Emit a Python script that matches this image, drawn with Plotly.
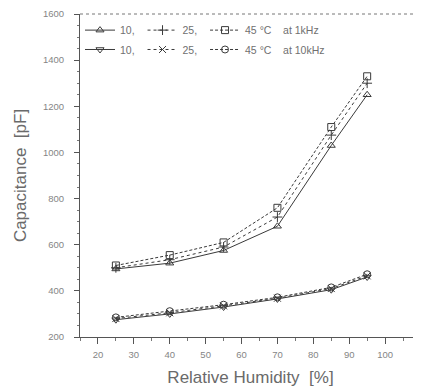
import plotly.graph_objects as go

humidity = [25, 40, 55, 70, 85, 95]

c_10C_1k = [495, 520, 575, 680, 1030, 1250]
c_25C_1k = [500, 535, 590, 720, 1075, 1300]
c_45C_1k = [510, 555, 610, 760, 1110, 1330]

c_10C_10k = [275, 300, 330, 365, 405, 460]
c_25C_10k = [280, 305, 335, 368, 410, 465]
c_45C_10k = [285, 312, 340, 372, 415, 472]

x_ticks = [20, 30, 40, 50, 60, 70, 80, 90, 100]
y_ticks = [200, 400, 600, 800, 1000, 1200, 1400, 1600]

names_1k = ["10, ", "25, ", "45 °C    at 1kHz"]
names_10k = ["10, ", "25, ", "45 °C    at 10kHz"]

LINE = "#3a3a3a"
TXT = "#858585"
FONT = "Liberation Sans, Arial, sans-serif"

fig = go.Figure()

specs_1k = [
    (c_10C_1k, "solid", "triangle-up-open"),
    (c_25C_1k, "dot", "cross-thin-open"),
    (c_45C_1k, "3px,2px", "square-open"),
]
specs_10k = [
    (c_10C_10k, "solid", "triangle-down-open"),
    (c_25C_10k, "dot", "x-thin-open"),
    (c_45C_10k, "3px,2px", "circle-open"),
]

for (vals, dash, sym), nm in zip(specs_1k, names_1k):
    fig.add_trace(go.Scatter(
        x=humidity, y=vals, mode="lines+markers", name=nm, legend="legend",
        line=dict(color=LINE, width=1, dash=dash),
        marker=dict(symbol=sym, size=7, color=LINE, line=dict(width=1, color=LINE)),
    ))
for (vals, dash, sym), nm in zip(specs_10k, names_10k):
    fig.add_trace(go.Scatter(
        x=humidity, y=vals, mode="lines+markers", name=nm, legend="legend2",
        line=dict(color=LINE, width=1, dash=dash),
        marker=dict(symbol=sym, size=7, color=LINE, line=dict(width=1, color=LINE)),
    ))

tickfont = dict(family=FONT, size=9.5, color=TXT)
legfont = dict(family=FONT, size=10.5, color="#707070")

fig.add_shape(type="line", xref="paper", yref="paper", x0=0, x1=1, y0=1, y1=1,
              line=dict(color="#777", width=1, dash="dot"))

fig.update_layout(
    width=413, height=379,
    margin=dict(l=72, r=0, t=6, b=50),
    paper_bgcolor="white", plot_bgcolor="white",
    xaxis=dict(
        range=[15, 110], tickvals=x_ticks, ticks="outside", ticklen=6,
        tickcolor="#555", showline=True, linecolor="#555", linewidth=1,
        showgrid=False, zeroline=False, tickfont=tickfont, ticklabelstandoff=3,
        minor=dict(ticks="outside", ticklen=3, dtick=5, tickcolor="#777"),
        title=dict(text="Relative Humidity  [%]",
                   font=dict(family=FONT, size=17, color="#6a6a6a"),
                   standoff=12),
    ),
    yaxis=dict(
        range=[200, 1600], tickvals=y_ticks, ticks="outside", ticklen=5,
        tickcolor="#555", showline=True, linecolor="#555", linewidth=1,
        showgrid=False, zeroline=False, tickfont=tickfont, ticklabelstandoff=8,
        minor=dict(ticks="outside", ticklen=2, dtick=50, tickcolor="#777"),
        title=dict(text="Capacitance  [pF]",
                   font=dict(family=FONT, size=17, color="#6a6a6a"),
                   standoff=12),
    ),
    legend=dict(orientation="h", x=0.0, y=0.995, xanchor="left", yanchor="top",
                bgcolor="rgba(0,0,0,0)", font=legfont, itemwidth=30,
                tracegroupgap=0),
    legend2=dict(orientation="h", x=0.0, y=0.935, xanchor="left", yanchor="top",
                 bgcolor="rgba(0,0,0,0)", font=legfont, itemwidth=30,
                 tracegroupgap=0),
    showlegend=True,
)

fig.write_html("out.html")
